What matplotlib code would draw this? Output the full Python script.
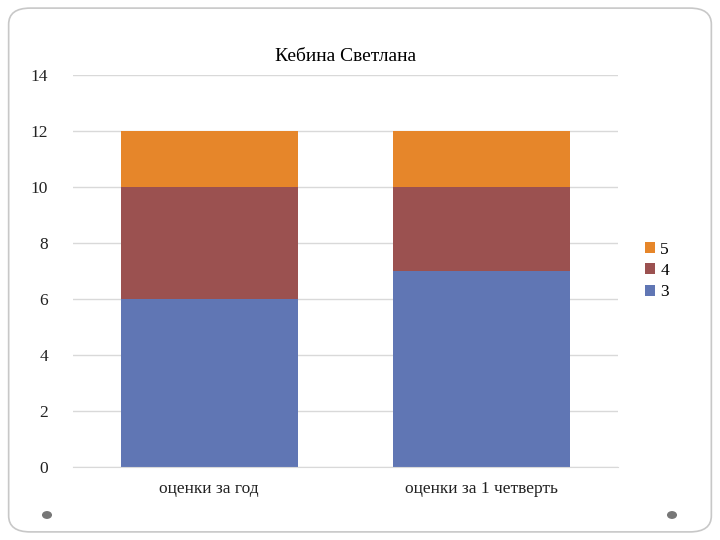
import matplotlib
matplotlib.use("Agg")
import matplotlib.pyplot as plt
from matplotlib.patches import FancyBboxPatch, Circle

categories = ["оценки за год", "оценки за 1 четверть"]
s3 = [6, 7]
s4 = [4, 3]
s5 = [2, 2]
title = "Кебина Светлана"

plt.rcParams['font.family'] = ['Liberation Serif', 'DejaVu Serif']
fig = plt.figure(figsize=(7.2, 5.4), dpi=100)
fig.patches.append(FancyBboxPatch((0.012, 0.015), 0.976, 0.97, boxstyle="round,pad=0,rounding_size=0.03",
                                  transform=fig.transFigure, fill=False, ec="#c8c8c8", lw=1.2))
for x in (47/720, 672/720):
    fig.patches.append(Circle((x, 1-515/540), 0.006, transform=fig.transFigure, color="#777777"))

ax = fig.add_axes([73/720, 1-467/540, 545/720, 392/540])
x = range(len(categories))
w = 0.65
ax.bar(x, s3, w, color="#6076B4", label="3")
ax.bar(x, s4, w, bottom=s3, color="#9B5150", label="4")
b2 = [a + b for a, b in zip(s3, s4)]
ax.bar(x, s5, w, bottom=b2, color="#E6862A", label="5")
ax.set_xlim(-0.5, 1.5)
ax.set_ylim(0, 14)
ax.set_yticks(range(0, 15, 2))
ax.yaxis.grid(True, color="#d9d9d9", lw=1)
ax.set_axisbelow(True)
for s in ["top", "right", "left"]:
    ax.spines[s].set_visible(False)
ax.spines["bottom"].set_color("#d9d9d9")
ax.tick_params(length=0, labelsize=12.5, colors="#222222")
ax.tick_params(axis="y", pad=18)
ax.tick_params(axis="x", pad=10)
ax.set_xticks(list(x))
ax.set_xticklabels(categories)
ax.set_title(title, fontsize=14, pad=10)
h, l = ax.get_legend_handles_labels()
ax.legend(h[::-1], l[::-1], loc="center left", bbox_to_anchor=(1.02, 0.5), frameon=False,
          fontsize=12.5, handlelength=0.6, handleheight=0.6, handletextpad=0.3, labelspacing=0.3)
fig.savefig("out.png", dpi=100)
